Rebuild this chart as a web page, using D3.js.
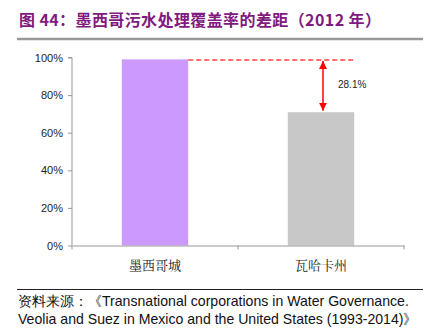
<!DOCTYPE html>
<html><head><meta charset="utf-8">
<script src="https://cdn.jsdelivr.net/npm/d3@7/dist/d3.min.js"></script>
<style>body{margin:0;background:#fff;}svg{display:block;}</style>
</head><body>
<svg id="c" width="432" height="329"></svg>
<script>
const categories = ["墨西哥城", "瓦哈卡州"];
const values = [99.0, 70.9];
const barColors = ["#CC99FF", "#C8C8C8"];
const yTicks = [0, 20, 40, 60, 80, 100];
const gapLabel = "28.1%";
const title = "图 44：墨西哥污水处理覆盖率的差距（2012 年）";
const source1 = "资料来源：《Transnational corporations in Water Governance.";
const source2 = "Veolia and Suez in Mexico and the United States (1993-2014)》";

const svg = d3.select("#c");
const pL = 72, pR = 404, pT = 57.5, pB = 245.5;
const x = d3.scaleBand().domain(categories).range([pL, pR]).paddingInner(0.6).paddingOuter(0.3);
const xb = d3.scaleBand().domain(categories).range([pL, pR]);
const y = d3.scaleLinear().domain([0, 100]).range([pB, pT]);

// title
svg.append("text").attr("x", 19).attr("y", 26).attr("fill", "#7F1A7F")
  .attr("font-family", "Noto Sans CJK SC, sans-serif").attr("font-weight", "bold").attr("font-size", 16)
  .attr("letter-spacing", 0.4)
  .text(title);
svg.append("line").attr("x1", 17).attr("x2", 423).attr("y1", 39).attr("y2", 39).attr("stroke", "#999").attr("stroke-width", 2.5);

// bars
svg.selectAll("rect.bar").data(values).enter().append("rect")
  .attr("x", (d, i) => x(categories[i])).attr("width", x.bandwidth())
  .attr("y", d => y(d)).attr("height", d => y(0) - y(d))
  .attr("fill", (d, i) => barColors[i]);

// y axis
const ya = svg.append("g").attr("transform", `translate(${pL},0)`)
  .call(d3.axisLeft(y).tickValues(yTicks).tickFormat(d => d + "%").tickSize(4));
ya.select(".domain").attr("stroke", "#999").attr("d", `M-4,${pT}H0V${pB}`);
ya.selectAll(".tick line").attr("stroke", "#999");
ya.selectAll(".tick text").attr("font-family", "Liberation Sans, Arial, sans-serif").attr("font-size", 11).attr("fill", "#222").attr("x", -9);

// x axis
const xa = svg.append("g").attr("transform", `translate(0,${pB})`)
  .call(d3.axisBottom(xb).tickSize(0).tickFormat(""));
xa.select(".domain").attr("stroke", "#999");
xa.selectAll(".tick").remove();
[pL, pL + xb.bandwidth(), pR].forEach(px => {
  svg.append("line").attr("x1", px).attr("x2", px).attr("y1", pB).attr("y2", pB + 4).attr("stroke", "#999");
});
svg.selectAll("text.cat").data(categories).enter().append("text")
  .attr("x", d => xb(d) + xb.bandwidth() / 2).attr("y", 270).attr("text-anchor", "middle")
  .attr("font-family", "Noto Serif CJK SC, Noto Sans CJK SC, serif").attr("font-size", 13).attr("fill", "#222")
  .text(d => d);

// gap annotation
const yTop = y(values[0]), yBot = y(values[1]);
const x2c = x(categories[1]) + x.bandwidth() / 2 + 2;
svg.append("line").attr("x1", x(categories[0]) + x.bandwidth()).attr("x2", x(categories[1]) + x.bandwidth())
  .attr("y1", yTop + 0.5).attr("y2", yTop + 0.5).attr("stroke", "#FF4545").attr("stroke-width", 1.5)
  .attr("stroke-dasharray", "5,3");
const defs = svg.append("defs");
defs.append("marker").attr("id", "ah").attr("viewBox", "0 0 10 10").attr("refX", 10).attr("refY", 5)
  .attr("markerWidth", 8).attr("markerHeight", 8).attr("markerUnits", "userSpaceOnUse").attr("orient", "auto-start-reverse")
  .append("path").attr("d", "M0,0L10,5L0,10Z").attr("fill", "#FF0000");
svg.append("line").attr("x1", x2c).attr("x2", x2c).attr("y1", yTop + 1.5).attr("y2", yBot - 1.5)
  .attr("stroke", "#FF0000").attr("stroke-width", 1.5)
  .attr("marker-start", "url(#ah)").attr("marker-end", "url(#ah)");
svg.append("text").attr("x", x2c + 15).attr("y", (yTop + yBot) / 2 + 2).attr("font-family", "Liberation Sans, Arial, sans-serif")
  .attr("font-size", 10).attr("fill", "#222").text(gapLabel);

// source
svg.append("line").attr("x1", 17).attr("x2", 423).attr("y1", 289.5).attr("y2", 289.5).attr("stroke", "#222").attr("stroke-width", 1);
svg.append("text").attr("x", 18).attr("y", 306).attr("font-family", "Liberation Sans, Arial, sans-serif").attr("font-size", 14.1).attr("fill", "#111").text(source1);
svg.append("text").attr("x", 18).attr("y", 324).attr("font-family", "Liberation Sans, Arial, sans-serif").attr("font-size", 14.1).attr("fill", "#111").text(source2);
</script>
</body></html>
